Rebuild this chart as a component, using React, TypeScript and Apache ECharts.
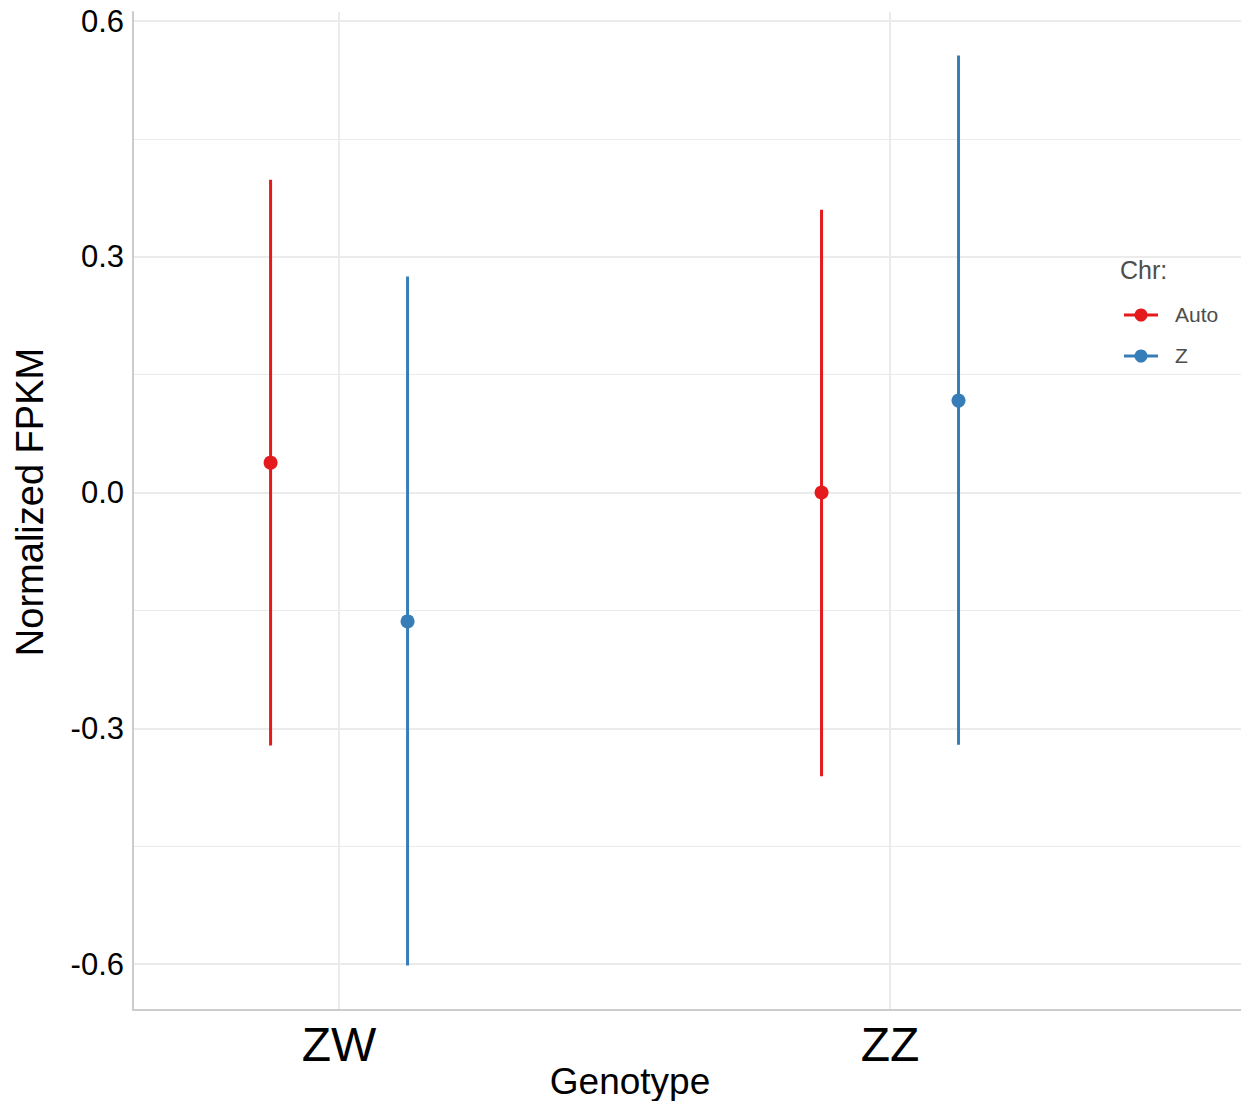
import React, { useEffect, useRef } from "react";
import * as echarts from "echarts";

const genotypes = ["ZW", "ZZ"];
const chrGroups = ["Auto", "Z"];
const chrColors = ["#E41A1C", "#377EB8"];
const autoMean = [0.038, 0.0];
const autoLow = [-0.322, -0.361];
const autoHigh = [0.398, 0.36];
const zMean = [-0.164, 0.117];
const zLow = [-0.602, -0.321];
const zHigh = [0.275, 0.556];
const yTicks = [-0.6, -0.3, 0, 0.3, 0.6];
const yMinorTicks = [-0.45, -0.15, 0.15, 0.45];
const xPositions = [1, 2];
const dodge = [-0.1243, 0.1243];

export default function App() {
  const ref = useRef<HTMLDivElement>(null);
  useEffect(() => {
    document.body.style.margin = "0";
    const chart = echarts.init(ref.current!, undefined, { renderer: "svg" });
    const groups = [
      { mean: autoMean, low: autoLow, high: autoHigh },
      { mean: zMean, low: zLow, high: zHigh },
    ];
    const series: any[] = [];
    series.push({
      type: "line",
      data: [],
      z: 0,
      silent: true,
      markLine: {
        silent: true,
        z: 0,
        symbol: "none",
        label: { show: false },
        animation: false,
        data: [
          ...yTicks.map((v) => ({ yAxis: v, lineStyle: { color: "#ebebeb", width: 2, type: "solid" } })),
          ...yMinorTicks.map((v) => ({ yAxis: v, lineStyle: { color: "#ebebeb", width: 1, type: "solid" } })),
          ...xPositions.map((v) => ({ xAxis: v, lineStyle: { color: "#ebebeb", width: 2, type: "solid" } })),
        ],
      },
    });
    groups.forEach((g, gi) => {
      const color = chrColors[gi];
      series.push({
        type: "custom",
        name: chrGroups[gi] + "-range",
        z: 3,
        data: xPositions.map((x, i) => [x + dodge[gi], g.low[i], g.high[i]]),
        encode: { x: 0, y: [1, 2] },
        renderItem: (params: any, api: any) => {
          const x = api.value(0);
          const p1 = api.coord([x, api.value(1)]);
          const p2 = api.coord([x, api.value(2)]);
          return {
            type: "line",
            shape: { x1: p1[0], y1: p1[1], x2: p2[0], y2: p2[1] },
            style: { stroke: color, lineWidth: 3 },
          };
        },
      });
      series.push({
        type: "scatter",
        name: chrGroups[gi],
        z: 4,
        symbol: "circle",
        symbolSize: 14,
        itemStyle: { color, opacity: 1 },
        data: xPositions.map((x, i) => [x + dodge[gi], g.mean[i]]),
      });
    });

    const legendGraphics: any[] = [
      {
        type: "text",
        left: 1120,
        top: 257,
        style: { text: "Chr:", fontSize: 25, fill: "#4d4d4d", fontFamily: "Liberation Sans, Arial, sans-serif" },
      },
    ];
    chrGroups.forEach((name, i) => {
      const cy = 315 + i * 41;
      legendGraphics.push(
        { type: "line", shape: { x1: 1124, y1: cy, x2: 1158, y2: cy }, style: { stroke: chrColors[i], lineWidth: 3 } },
        { type: "circle", shape: { cx: 1141, cy, r: 6.5 }, style: { fill: chrColors[i] } },
        {
          type: "text",
          left: 1175,
          top: cy - 11,
          style: { text: name, fontSize: 21, fill: "#4d4d4d", fontFamily: "Liberation Sans, Arial, sans-serif" },
        }
      );
    });
    legendGraphics.push(
      {
        type: "text",
        x: 630,
        y: 1081,
        style: {
          text: "Genotype",
          fontSize: 37,
          fill: "#000",
          align: "center",
          verticalAlign: "middle",
          fontFamily: "Liberation Sans, Arial, sans-serif",
        },
      },
      {
        type: "text",
        x: 30,
        y: 502,
        rotation: Math.PI / 2,
        style: {
          text: "Normalized FPKM",
          fontSize: 38,
          fill: "#000",
          align: "center",
          verticalAlign: "middle",
          fontFamily: "Liberation Sans, Arial, sans-serif",
        },
      }
    );

    chart.setOption({
      animation: false,
      backgroundColor: "#fff",
      textStyle: { fontFamily: "Liberation Sans, Arial, sans-serif" },
      grid: { left: 133, right: 0, top: 12, bottom: 91, containLabel: false },
      xAxis: {
        type: "value",
        min: 0.626,
        max: 2.637,
        splitLine: { show: false },
        axisTick: { show: false, customValues: xPositions },
        axisLine: { show: true, onZero: false, lineStyle: { color: "#cccccc", width: 2 } },
        axisLabel: {
          customValues: xPositions,
          formatter: (v: number) => genotypes[Math.round(v) - 1] ?? "",
          fontSize: 48,
          color: "#000",
          margin: 10,
        },
      },
      yAxis: {
        type: "value",
        min: -0.6585,
        max: 0.6115,
        splitLine: { show: false },
        axisTick: { show: false, customValues: yTicks },
        axisLine: { show: true, onZero: false, lineStyle: { color: "#cccccc", width: 2 } },
        axisLabel: {
          customValues: yTicks,
          formatter: (v: number) => v.toFixed(1),
          fontSize: 31,
          color: "#000",
          margin: 9,
        },
      },
      graphic: legendGraphics,
      series,
    });
    return () => chart.dispose();
  }, []);
  return <div ref={ref} style={{ width: 1241, height: 1101 }} />;
}
